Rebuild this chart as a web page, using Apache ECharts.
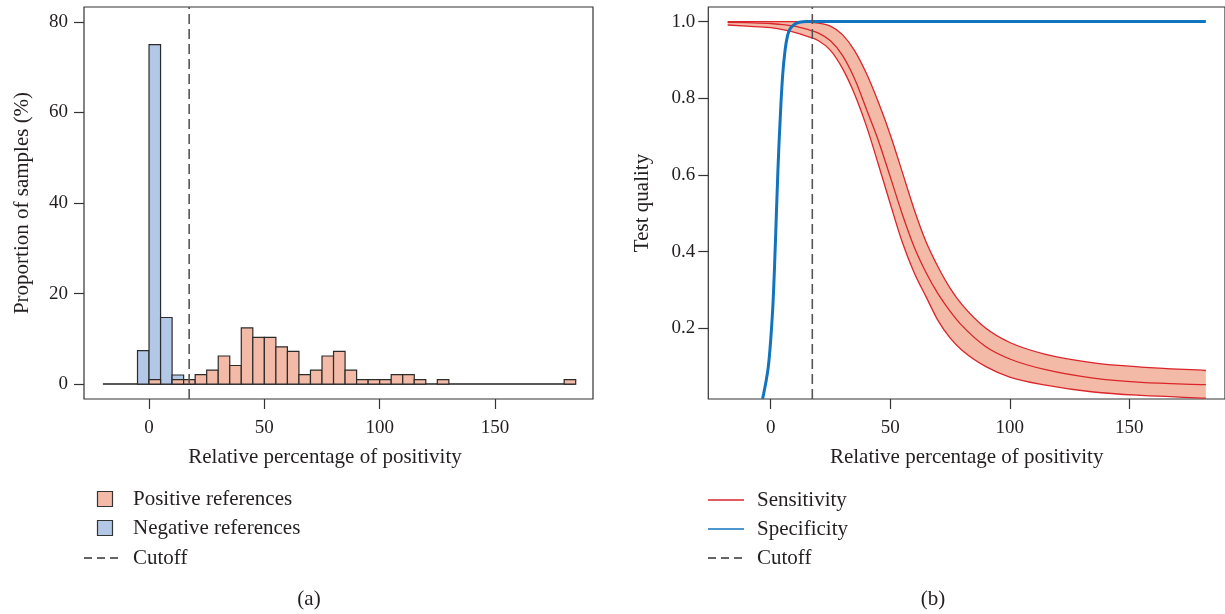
<!DOCTYPE html>
<html>
<head>
<meta charset="utf-8">
<script src="https://cdn.jsdelivr.net/npm/echarts@6/dist/echarts.min.js"></script>
<style>
  html, body { margin: 0; padding: 0; background: #ffffff; }
  #chart { width: 1225px; height: 614px; }
</style>
</head>
<body>
<div id="chart"></div>
<script>
// ---------- Data ----------
const binWidth = 5;
// Negative references histogram (bin left edges, % of samples)
const negBinLeft = [-5, 0, 5, 10, 15];
const negValues  = [7.4, 75.0, 14.7, 2.0, 1.0];
// Positive references histogram (bin left edges, % of samples)
const posBinLeft = [0, 10, 15, 20, 25, 30, 35, 40, 45, 50, 55, 60, 65, 70, 75, 80, 85, 90, 95, 100, 105, 110, 115, 125, 180];
const posValues  = [1.0, 1.0, 1.0, 2.1, 3.1, 6.2, 4.1, 12.4, 10.3, 10.3, 8.2, 7.2, 2.1, 3.1, 6.2, 7.2, 3.1, 1.0, 1.0, 1.0, 2.1, 2.1, 1.0, 1.0, 1.0];
const histRange = [-20, 185];
const cutoff = 17.4;

// Sensitivity curve with confidence band
const sensX    = [-18, -10, 0, 5, 10, 15, 20, 25, 30, 35, 40, 45, 50, 55, 60, 65, 70, 75, 80, 90, 100, 115, 135, 155, 182];
const sensMid  = [0.998, 0.997, 0.995, 0.992, 0.988, 0.980, 0.970, 0.950, 0.912, 0.852, 0.772, 0.690, 0.595, 0.498, 0.412, 0.345, 0.290, 0.245, 0.207, 0.152, 0.120, 0.092, 0.070, 0.059, 0.053];
const sensUp   = [1.0, 1.0, 1.0, 1.0, 1.0, 0.999, 0.996, 0.988, 0.966, 0.925, 0.865, 0.790, 0.705, 0.608, 0.510, 0.425, 0.360, 0.305, 0.262, 0.200, 0.163, 0.132, 0.110, 0.099, 0.090];
const sensLow  = [0.991, 0.988, 0.984, 0.979, 0.972, 0.962, 0.950, 0.925, 0.878, 0.812, 0.728, 0.628, 0.525, 0.425, 0.345, 0.282, 0.220, 0.175, 0.143, 0.100, 0.073, 0.052, 0.034, 0.025, 0.018];

// Specificity curve
const specX = [-3.4, -2, -1, 0, 1, 2, 3, 4, 5, 6, 7, 8, 10, 12, 15, 20, 182];
const specY = [0.016, 0.06, 0.10, 0.17, 0.27, 0.43, 0.61, 0.75, 0.86, 0.925, 0.962, 0.980, 0.993, 0.998, 1.0, 1.0, 1.0];

// Tick labels
const histXTicks = [0, 50, 100, 150];
const histYTicks = [0, 20, 40, 60, 80];
const qualXTicks = [0, 50, 100, 150];
const qualYTicks = [0.2, 0.4, 0.6, 0.8, 1.0];

// ---------- Styling ----------
const FONT = '"Liberation Serif", "Times New Roman", serif';
const FS = 21;     // titles / legend
const FT = 19;     // tick labels
const TXT = '#231f20';
const AX = '#333333';
const PINK = '#f3bba7';
const BLUE_FILL = '#b3c7e6';
const RED = '#d9252b';
const BLUE = '#1273be';
const DASH = [10, 5];

const Q_YMIN = 0.0157, Q_YMAX = 1.038;

const histNeg = negBinLeft.map((l, i) => [l, l + binWidth, negValues[i]]);
const histPos = posBinLeft.map((l, i) => [l, l + binWidth, posValues[i]]);
const zip = (xs, ys) => xs.map((x, i) => [x, ys[i]]);

function histRender(fill, blend) {
  return function (params, api) {
    const x0 = api.value(0), x1 = api.value(1), v = api.value(2);
    const p0 = api.coord([x0, v]);
    const p1 = api.coord([x1, 0]);
    return {
      type: 'rect',
      shape: { x: p0[0], y: p0[1], width: p1[0] - p0[0], height: p1[1] - p0[1] },
      style: { fill: fill, stroke: '#2b2b2b', lineWidth: 1.2, blend: blend }
    };
  };
}

// Monotone cubic (Fritsch-Carlson) segments for a curve y(x), returned in pixel space
function curveSegments(xs, ys, api) {
  const n = xs.length;
  const d = [], m = new Array(n).fill(0);
  for (let k = 0; k < n - 1; k++) d.push((ys[k + 1] - ys[k]) / (xs[k + 1] - xs[k]));
  m[0] = d[0]; m[n - 1] = d[n - 2];
  for (let k = 1; k < n - 1; k++) m[k] = (d[k - 1] * d[k] <= 0) ? 0 : (d[k - 1] + d[k]) / 2;
  for (let k = 0; k < n - 1; k++) {
    if (d[k] === 0) { m[k] = 0; m[k + 1] = 0; continue; }
    const a = m[k] / d[k], b = m[k + 1] / d[k], s = a * a + b * b;
    if (s > 9) { const t = 3 / Math.sqrt(s); m[k] = t * a * d[k]; m[k + 1] = t * b * d[k]; }
  }
  const segs = [];
  for (let k = 0; k < n - 1; k++) {
    const h = xs[k + 1] - xs[k];
    segs.push({
      p0: api.coord([xs[k], ys[k]]),
      c1: api.coord([xs[k] + h / 3, ys[k] + m[k] * h / 3]),
      c2: api.coord([xs[k + 1] - h / 3, ys[k + 1] - m[k + 1] * h / 3]),
      p1: api.coord([xs[k + 1], ys[k + 1]])
    });
  }
  return segs;
}
const pt = p => p[0].toFixed(2) + ' ' + p[1].toFixed(2);
function forwardPath(segs) {
  let s = 'M ' + pt(segs[0].p0);
  segs.forEach(g => { s += ' C ' + pt(g.c1) + ' ' + pt(g.c2) + ' ' + pt(g.p1); });
  return s;
}
function backwardPath(segs) {
  let s = '';
  for (let i = segs.length - 1; i >= 0; i--) {
    const g = segs[i];
    s += ' C ' + pt(g.c2) + ' ' + pt(g.c1) + ' ' + pt(g.p0);
  }
  return s;
}

function sensitivityRender(params, api) {
  if (params.dataIndex !== 0) return null;
  const up = curveSegments(sensX, sensUp, api);
  const lo = curveSegments(sensX, sensLow, api);
  const mid = curveSegments(sensX, sensMid, api);
  const bandPath = forwardPath(up) + ' L ' + pt(lo[lo.length - 1].p1) + backwardPath(lo) + ' Z';
  return {
    type: 'group',
    children: [
      { type: 'path', shape: { pathData: bandPath }, style: { fill: PINK, stroke: null } },
      { type: 'path', shape: { pathData: forwardPath(up) }, style: { fill: null, stroke: RED, lineWidth: 1.3 } },
      { type: 'path', shape: { pathData: forwardPath(lo) }, style: { fill: null, stroke: RED, lineWidth: 1.3 } },
      { type: 'path', shape: { pathData: forwardPath(mid) }, style: { fill: null, stroke: RED, lineWidth: 1.3 } }
    ]
  };
}

function valueAxis(idx, min, max, ticks, fmt, margin, extra) {
  return Object.assign({
    type: 'value', gridIndex: idx, min: min, max: max, z: 10,
    axisLine: { show: false, onZero: false },
    splitLine: { show: false },
    axisTick: { show: true, inside: false, length: 10, customValues: ticks, lineStyle: { color: AX, width: 1.2 } },
    axisLabel: { customValues: ticks, formatter: fmt, color: TXT, fontFamily: FONT, fontSize: FT, margin: margin },
    nameTextStyle: { color: TXT, fontFamily: FONT, fontSize: FS }
  }, extra || {});
}

const chart = echarts.init(document.getElementById('chart'), null, { renderer: 'canvas' });

const textStyle = (t) => ({ text: t, align: 'left', verticalAlign: 'middle', fill: TXT, font: FS + 'px ' + FONT });

const option = {
  backgroundColor: '#ffffff',
  animation: false,
  grid: [
    { left: 84, top: 7, width: 509, height: 392, show: true, borderColor: AX, borderWidth: 1.2, containLabel: false },
    { left: 708.3, top: 7, width: 518.3, height: 392, show: true, borderColor: AX, borderWidth: 1.2, containLabel: false }
  ],
  xAxis: [
    valueAxis(0, -28.2, 192.5, histXTicks, v => String(v), 20),
    valueAxis(1, -26.1, 190, qualXTicks, v => String(v), 20, {
      name: 'Relative percentage of positivity', nameLocation: 'middle', nameGap: 48
    })
  ],
  yAxis: [
    valueAxis(0, -3.3, 83.3, histYTicks, v => String(v), 16, {
      name: 'Proportion of samples (%)', nameLocation: 'middle', nameRotate: 90, nameGap: 51
    }),
    valueAxis(1, Q_YMIN, Q_YMAX, qualYTicks, v => Number(v).toFixed(1), 13, {
      name: 'Test quality', nameLocation: 'middle', nameRotate: 90, nameGap: 55
    })
  ],
  series: [
    // ---- left panel ----
    {
      name: 'Baseline', type: 'line', xAxisIndex: 0, yAxisIndex: 0, z: 1,
      data: [[histRange[0], 0], [histRange[1], 0]], symbol: 'none', silent: true,
      lineStyle: { color: '#222222', width: 1.6 }
    },
    {
      name: 'Negative references', type: 'custom', xAxisIndex: 0, yAxisIndex: 0, z: 2,
      data: histNeg, encode: { x: [0, 1], y: 2 },
      renderItem: histRender(BLUE_FILL, 'source-over')
    },
    {
      name: 'Positive references', type: 'custom', xAxisIndex: 0, yAxisIndex: 0, z: 3,
      data: histPos, encode: { x: [0, 1], y: 2 },
      renderItem: histRender(PINK, 'multiply')
    },
    {
      name: 'Cutoff', type: 'line', xAxisIndex: 0, yAxisIndex: 0, z: 5,
      data: [[cutoff, -3.3], [cutoff, 83.3]], symbol: 'none', silent: true,
      lineStyle: { color: '#555555', width: 1.6, type: DASH }
    },
    // ---- right panel ----
    {
      name: 'Sensitivity', type: 'custom', xAxisIndex: 1, yAxisIndex: 1, z: 2, clip: true,
      data: zip(sensX, sensMid), encode: { x: 0, y: 1 },
      renderItem: sensitivityRender
    },
    {
      name: 'Specificity', type: 'line', xAxisIndex: 1, yAxisIndex: 1, z: 3,
      data: zip(specX, specY), smooth: 0.4, symbol: 'none',
      lineStyle: { color: BLUE, width: 3 }
    },
    {
      name: 'Cutoff ', type: 'line', xAxisIndex: 1, yAxisIndex: 1, z: 5,
      data: [[cutoff, Q_YMIN], [cutoff, Q_YMAX]], symbol: 'none', silent: true,
      lineStyle: { color: '#555555', width: 1.6, type: DASH }
    }
  ],
  graphic: [
    // left x-axis title
    { type: 'text', x: 325, y: 457, style: { text: 'Relative percentage of positivity', align: 'center', verticalAlign: 'middle', fill: TXT, font: FS + 'px ' + FONT } },
    // left legend
    { type: 'rect', shape: { x: 97.5, y: 491.5, width: 15, height: 15 }, style: { fill: PINK, stroke: '#333', lineWidth: 1.2 } },
    { type: 'text', x: 133, y: 499, style: textStyle('Positive references') },
    { type: 'rect', shape: { x: 97.5, y: 520.5, width: 15, height: 15 }, style: { fill: BLUE_FILL, stroke: '#333', lineWidth: 1.2 } },
    { type: 'text', x: 133, y: 528, style: textStyle('Negative references') },
    { type: 'line', shape: { x1: 84, y1: 558, x2: 118, y2: 558 }, style: { stroke: '#333', lineWidth: 1.3, lineDash: [8, 5] } },
    { type: 'text', x: 133, y: 558, style: textStyle('Cutoff') },
    { type: 'text', x: 309, y: 599, style: { text: '(a)', align: 'center', verticalAlign: 'middle', fill: TXT, font: FS + 'px ' + FONT } },
    // right legend
    { type: 'line', shape: { x1: 708, y1: 500, x2: 744, y2: 500 }, style: { stroke: RED, lineWidth: 1.3 } },
    { type: 'text', x: 757, y: 500, style: textStyle('Sensitivity') },
    { type: 'line', shape: { x1: 708, y1: 529, x2: 744, y2: 529 }, style: { stroke: BLUE, lineWidth: 1.3 } },
    { type: 'text', x: 757, y: 529, style: textStyle('Specificity') },
    { type: 'line', shape: { x1: 708, y1: 558, x2: 744, y2: 558 }, style: { stroke: '#333', lineWidth: 1.3, lineDash: [8, 5] } },
    { type: 'text', x: 757, y: 558, style: textStyle('Cutoff') },
    { type: 'text', x: 933, y: 599, style: { text: '(b)', align: 'center', verticalAlign: 'middle', fill: TXT, font: FS + 'px ' + FONT } }
  ]
};

chart.setOption(option);
</script>
</body>
</html>
